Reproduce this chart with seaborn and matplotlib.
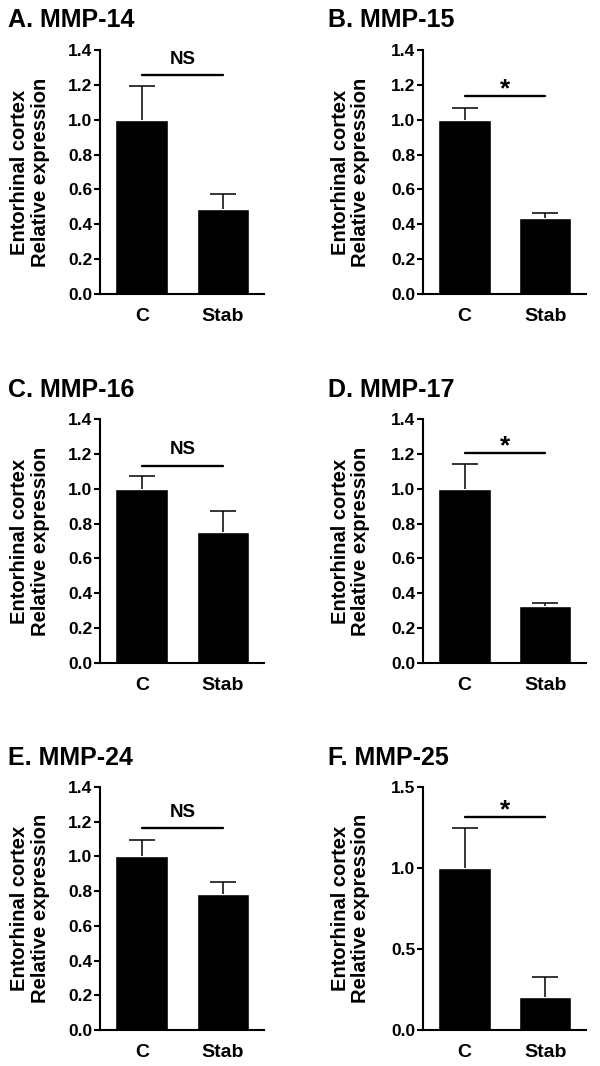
import numpy as np
import pandas as pd
import matplotlib
matplotlib.use("Agg")
import matplotlib.pyplot as plt
import seaborn as sns

# data
groups = ["C", "Stab"]
titles = ["A. MMP-14", "B. MMP-15", "C. MMP-16", "D. MMP-17", "E. MMP-24", "F. MMP-25"]
means = [[1.0, 0.485], [1.0, 0.435], [1.0, 0.753], [1.0, 0.328], [1.0, 0.786], [1.0, 0.205]]
sems = [[0.195, 0.087], [0.065, 0.028], [0.074, 0.121], [0.139, 0.019], [0.095, 0.066], [0.245, 0.12]]
sig_labels = ["NS", "*", "NS", "*", "NS", "*"]
sig_y = [1.258, 1.136, 1.133, 1.205, 1.166, 1.315]
y_max = [1.4, 1.4, 1.4, 1.4, 1.4, 1.5]
y_step = [0.2, 0.2, 0.2, 0.2, 0.2, 0.5]

sns.set_style("ticks")
plt.rcParams['font.family'] = ['Liberation Sans', 'DejaVu Sans']
plt.rcParams['font.weight'] = 'bold'
for key in ["text.color", "axes.labelcolor", "xtick.color", "ytick.color", "axes.edgecolor"]:
    plt.rcParams[key] = "black"

W, H = 600, 1066
fig = plt.figure(figsize=(W / 100, H / 100), dpi=100)

# panel geometry in pixels: (left, right) per column, (top, bottom) per row
cols = [(100, 264), (423, 586)]
rows = [(50, 294), (419, 663), (787, 1030)]
title_x = [8, 328]
title_base = [27, 397, 765]
label_x = [-0.305, -0.325]

for i, title in enumerate(titles):
    r, c = divmod(i, 2)
    l, rt = cols[c]
    t, b = rows[r]
    ax = fig.add_axes([l / W, 1 - b / H, (rt - l) / W, (b - t) / H])

    df = pd.DataFrame({"group": groups, "value": means[i]})
    sns.barplot(data=df, x="group", y="value", color="black", width=0.65,
                saturation=1, errorbar=None, ax=ax)
    eb = ax.errorbar([0, 1], means[i], yerr=[np.zeros(2), sems[i]], fmt="none",
                     ecolor="black", elinewidth=1.1, capsize=9.4, capthick=1.1)
    eb[1][0].set_visible(False)  # hide the lower caps, only upper SEM shown

    ax.set_xlim(-0.515, 1.505)
    ax.set_ylim(0, y_max[i])
    ax.set_yticks(np.arange(0, y_max[i] + 1e-9, y_step[i]))
    ax.yaxis.set_major_formatter(matplotlib.ticker.FormatStrFormatter("%.1f"))
    ax.tick_params(axis="y", length=4, width=1.5, pad=1.5, labelsize=12.5)
    ax.tick_params(axis="x", length=0, pad=10, labelsize=14)
    for lab in ax.get_xticklabels() + ax.get_yticklabels():
        lab.set_fontweight("bold")
    for s in ["left", "bottom"]:
        ax.spines[s].set_linewidth(1.5)
    sns.despine(ax=ax)

    ax.set_xlabel("")
    ax.set_ylabel("Entorhinal cortex\nRelative expression", fontsize=14.5,
                  fontweight="bold", multialignment="center", linespacing=1.1)
    ax.yaxis.set_label_coords(label_x[c], 0.5)

    # significance bar
    ax.plot([0, 1], [sig_y[i], sig_y[i]], color="black", lw=1.7, clip_on=False)
    if sig_labels[i] == "*":
        ax.annotate("*", (0.5, sig_y[i]), xytext=(0, 0), textcoords="offset points",
                    ha="center", va="baseline", fontsize=19, fontweight="bold")
    else:
        ax.annotate("NS", (0.5, sig_y[i]), xytext=(0, 8), textcoords="offset points",
                    ha="center", va="baseline", fontsize=13.5, fontweight="bold")

    fig.text(title_x[c] / W, 1 - title_base[r] / H, title, ha="left", va="baseline",
             fontsize=18, fontweight="bold")

fig.savefig("out.png", dpi=100)
